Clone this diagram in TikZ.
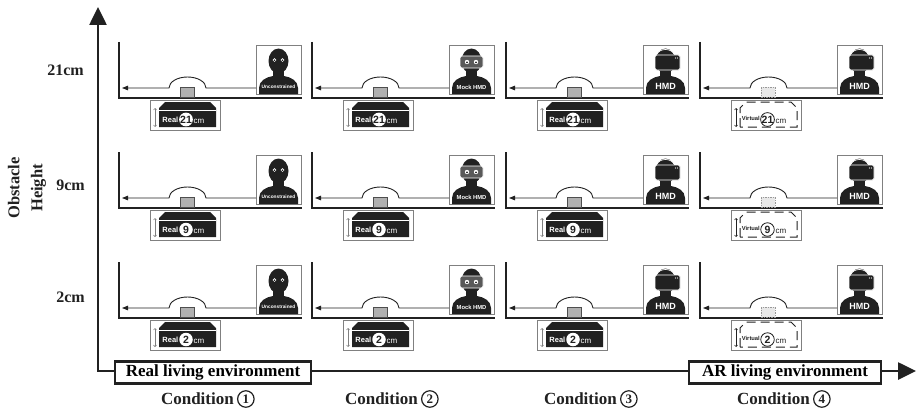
\documentclass[tikz,border=0pt]{standalone}
\usepackage{fontspec}
\setmainfont{Liberation Serif}
\newfontfamily\iconsans{Liberation Sans}
\usetikzlibrary{arrows.meta}

\definecolor{ink}{gray}{0.13}
\definecolor{frame}{gray}{0.5}

% silhouette: head, neck and shoulders inside a 45 x 49 frame (y grows downward)
\newcommand\SilhouetteBase{%
  \fill[ink] (3,49) -- (3,43) .. controls (3,36) and (10,32) .. (17,31)
    -- (28,31) .. controls (35,32) and (42,36) .. (42,43) -- (42,49) -- cycle;
  \fill[ink] (17,21) rectangle (28,33);
  \fill[ink] (22.5,16) ellipse[x radius=10, y radius=12.5];
}
\newcommand\FigUnconstrained{%
  \SilhouetteBase
  \fill[white] (18.5,15) circle (1.9) (26.5,15) circle (1.9);
  \fill[ink] (18.5,15.3) circle (0.9) (26.5,15.3) circle (0.9);
  \node[iconlabel, font=\iconsans\bfseries\fontsize{4.8}{5}\selectfont] (lab-\c-\r) at (22.5,42) {Unconstrained};
}
\newcommand\FigMock{%
  \SilhouetteBase
  \filldraw[fill=ink!75!white, draw=white, line width=0.8, rounded corners=2] (11,11) rectangle (34,23);
  \fill[white] (18,17) circle (2.2) (27,17) circle (2.2);
  \fill[ink] (18,17.3) circle (1) (27,17.3) circle (1);
  \node[iconlabel, font=\iconsans\bfseries\fontsize{5.8}{6}\selectfont] (lab-\c-\r) at (22.5,42) {Mock HMD};
}
\newcommand\FigHMD{%
  \SilhouetteBase
  \draw[white, line width=0.7] (14,9) .. controls (17,3) and (28,3) .. (31,9);
  \filldraw[fill=ink, draw=white, line width=0.9, rounded corners=1.5] (12,10) rectangle (37,25);
  \fill[white] (32.5,13) circle (0.6) (34.5,13) circle (0.6);
  \node[iconlabel, font=\iconsans\bfseries\fontsize{9}{10}\selectfont] (lab-\c-\r) at (22.5,41) {HMD};
}

% obstacle tags under each lane
\newcommand\TagOutline{(40,29) -- (40,10) -- (46,4) -- (91,4) -- (97,10) -- (97,29) -- cycle}
\newcommand\RealTag[1]{%
  \fill[ink] \TagOutline;
  \draw[white, line width=0.7] (40,12) -- (97,12);
  \draw[frame, line width=0.6, {Straight Barb[length=1.5pt]}-{Straight Barb[length=1.5pt]}] (36,10) -- (36,29);
  \node[tagword, text=white, anchor=east] (tw-\c-\r) at (59.5,21.5) {Real};
  \node[numdisc] (tn-\c-\r) at (67,21.5) {#1};
  \node[tagword, text=white, anchor=west, font=\iconsans\fontsize{8}{8}\selectfont] (tc-\c-\r) at (74.5,23) {cm};
}
\newcommand\VirtualTag[1]{%
  \draw[ink, line width=1, dash pattern=on 9pt off 5pt] \TagOutline;
  \draw[ink, line width=0.6, {Straight Barb[length=1.5pt]}-{Straight Barb[length=1.5pt]}] (36,10) -- (36,29);
  \node[tagword, text=ink, anchor=east, font=\iconsans\bfseries\fontsize{5.8}{6}\selectfont] (tw-\c-\r) at (60,20.5) {Virtual};
  \node[numdisc, draw=ink, line width=0.8] (tn-\c-\r) at (67.5,21.5) {#1};
  \node[tagword, text=ink, anchor=west, font=\iconsans\fontsize{8}{8}\selectfont] (tc-\c-\r) at (75.5,23) {cm};
}

\tikzset{
  axisline/.style={line width=2.6pt, draw=ink},
  envbox/.style={draw=ink, line width=2.2pt, fill=white, inner sep=0pt,
    minimum height=22pt, font=\bfseries\fontsize{17}{18}\selectfont},
  condword/.style={font=\bfseries\fontsize{17}{18}\selectfont, inner sep=0pt, text=ink},
  condnum/.style={circle, draw=ink, line width=1.2pt, inner sep=0pt, minimum size=16.5pt,
    font=\bfseries\fontsize{13}{13}\selectfont, text=ink},
  heightlabel/.style={font=\bfseries\fontsize{16}{18}\selectfont, inner sep=0pt, anchor=east, text=ink},
  lanewall/.style={draw=ink, line width=1.1pt},
  walk/.style={draw=ink, line width=0.9pt, -{Triangle[length=6pt, width=4.5pt]}},
  figframe/.style={draw=frame, line width=0.8pt, fill=white, inner sep=0pt,
    minimum width=45pt, minimum height=49pt, anchor=north west},
  tagbox/.style={draw=frame, line width=0.8pt, fill=white, inner sep=0pt,
    minimum width=70pt, minimum height=30pt, anchor=north west},
  iconlabel/.style={text=white, inner sep=0pt},
  tagword/.style={inner sep=0pt, font=\iconsans\bfseries\fontsize{7.5}{8}\selectfont},
  numdisc/.style={circle, fill=white, inner sep=0pt, minimum size=13.5pt,
    font=\iconsans\bfseries\fontsize{10.5}{11}\selectfont, text=ink},
  realblock/.style={fill=gray!62, draw=ink!80, line width=0.6pt},
  virtualblock/.style={fill=gray!18, draw=gray!80, line width=0.6pt, dash pattern=on 1.5pt off 1pt},
}

\begin{document}
\begin{tikzpicture}[x=1pt, y=-1pt]
  \useasboundingbox (0,0) rectangle (917,412);
  \fill[white] (0,0) rectangle (917,412);

  % axes
  \coordinate (ytip) at (98,7);
  \coordinate (origin) at (98,371);
  \coordinate (xtip) at (916,371);
  \draw[axisline, {Triangle[length=18pt, width=17pt]}-{Triangle[length=18pt, width=17pt]}]
    (ytip) -- (origin) -- (xtip);

  % axis titles
  \node[font=\bfseries\fontsize{16.5}{23}\selectfont, rotate=90, align=center, text=ink] (ytitle) at (27,188) {Obstacle\\Height};
  \node[heightlabel] (h21) at (84,70) {21cm};
  \node[heightlabel] (h9) at (85,185) {9cm};
  \node[heightlabel] (h2) at (85,297) {2cm};

  \node[envbox, minimum width=196pt] (realenv) at (213,372.5) {Real living environment};
  \node[envbox, minimum width=192pt] (arenv) at (785,372.5) {AR living environment};

  % condition captions
  \foreach \k/\cx in {1/208, 2/392, 3/591, 4/784}{
    \node[condword, anchor=east] (cond\k) at (\cx+26,399) {Condition};
    \node[condnum, anchor=west] (condn\k) at ([xshift=3pt]cond\k.east) {\k};
  }

  % one lane per condition and obstacle height
  \foreach \c/\x in {1/119, 2/312, 3/506, 4/700}{
    \foreach \r/\y/\h in {1/98/21, 2/208/9, 3/318/2}{
      \begin{scope}[shift={(\x,\y)}]
        \draw[lanewall] (0,-56) -- (0,0) -- (183,0);
        \ifnum\c<4
          \draw[realblock] (61,-11) rectangle (75,-1);
        \else
          \draw[virtualblock] (61,-11) rectangle (75,-1);
        \fi
        \node[figframe] (fig-\c-\r) at (137,-53) {};
        \begin{scope}[shift={(137,-53)}]
          \ifcase\c\or \FigUnconstrained \or \FigMock \or \FigHMD \or \FigHMD \fi
        \end{scope}
        \coordinate (goal-\c-\r) at (3,-10);
        \draw[walk] (fig-\c-\r.west |- goal-\c-\r) -- (87,-10)
          arc[start angle=0, end angle=-180, x radius=18.5, y radius=11] -- (goal-\c-\r);
        \node[tagbox] (tag-\c-\r) at (31,2) {};
        \ifnum\c<4 \RealTag{\h} \else \VirtualTag{\h} \fi
      \end{scope}
    }
  }
\end{tikzpicture}
\end{document}
